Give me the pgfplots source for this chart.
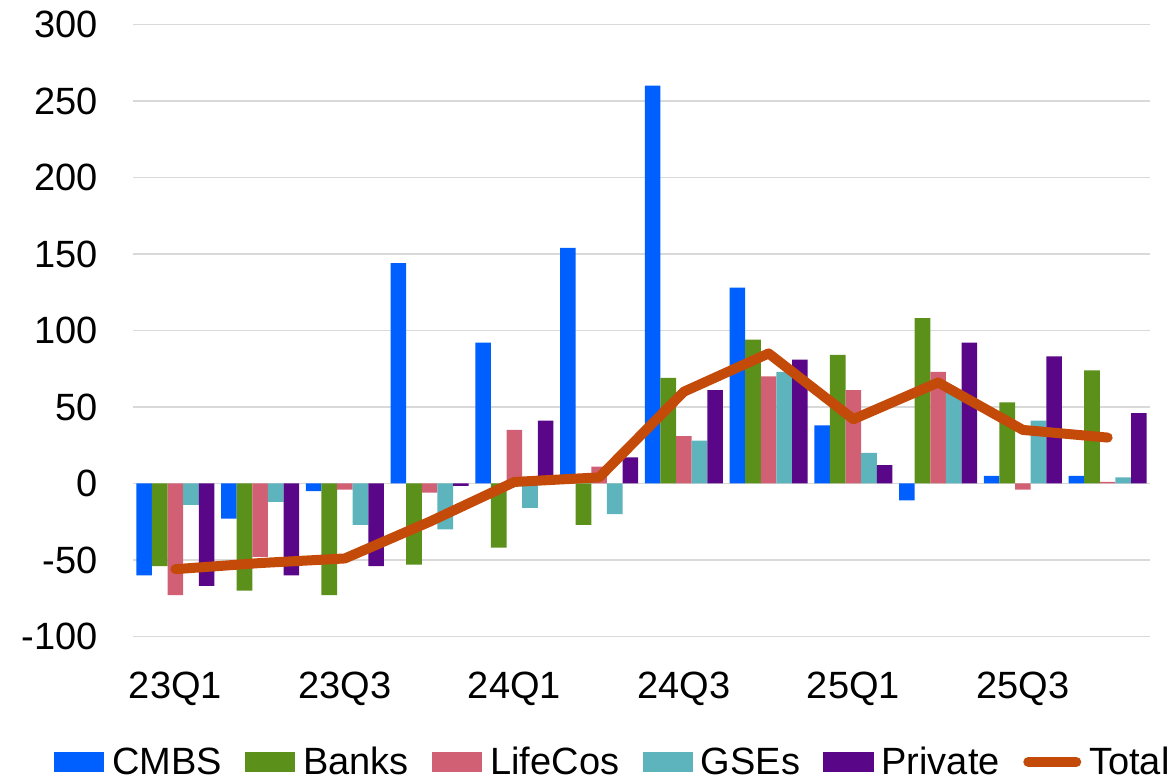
\documentclass[border=0pt]{standalone}
\usepackage{fontspec}
\setmainfont{Liberation Sans}
\usepackage{pgfplots}
\usepackage{pgfplotstable}
\pgfplotsset{compat=1.18}

\definecolor{cmbs}{RGB}{0,96,255}
\definecolor{banks}{RGB}{91,144,26}
\definecolor{lifecos}{RGB}{210,96,116}
\definecolor{gses}{RGB}{94,180,188}
\definecolor{private}{RGB}{90,6,136}
\definecolor{total}{RGB}{196,74,10}
\definecolor{gridgray}{RGB}{217,217,217}

% Quarterly net lending by lender type
\pgfplotstableread{
q  CMBS  Banks  LifeCos  GSEs  Private  Total
0  -60   -54    -73      -14   -67      -56
1  -23   -70    -48      -12   -60      -52
2  -5    -73    -4       -27   -54      -49
3  144   -53    -6       -30   -1.5     -25
4  92    -42    35       -16   41       1
5  154   -27    11       -20   17       4
6  260   69     31       28    61       60
7  128   94     70       73    81       85
8  38    84     61       20    12       42
9  -11   108    73       59    92       66
10 5     53     -4       41    83       35
11 5     74     1        4     46       30
}\lending

\newcommand{\bigfont}{\fontsize{38}{42}\selectfont}

\begin{document}
\begin{tikzpicture}
\begin{axis}[
  scale only axis,
  width=1017pt, height=612pt,
  xmin=-0.5, xmax=11.5,
  ymin=-100, ymax=300,
  ybar=0pt, bar width=15.6pt,
  axis line style={draw=none},
  major tick length=0pt,
  ymajorgrids,
  grid style={gridgray, line width=1.8pt},
  ytick={-100,-50,0,50,100,150,200,250,300},
  yticklabels={-100,-50,0,50,100,150,200,250,300},
  xtick={0,2,4,6,8,10},
  xticklabels={23Q1,23Q3,24Q1,24Q3,25Q1,25Q3},
  tick label style={font=\bigfont},
  yticklabel style={anchor=east, inner sep=0pt, xshift=-35pt},
  xticklabel style={anchor=base, inner sep=0pt, yshift=-62.5pt},
  clip=false,
  legend columns=6,
  legend style={draw=none, fill=none, font=\bigfont,
    inner sep=0pt, outer sep=0pt,
    at={(rel axis cs:-0.0777,-0.2050)}, anchor=west,
    nodes={inner sep=0pt},
    /tikz/every odd column/.append style={column sep=8pt},
    /tikz/every even column/.append style={column sep=23.5pt}},
]
\addplot[fill=cmbs, draw=none,
  legend image code/.code={\fill[cmbs] (0pt,-10pt) rectangle (50pt,10pt);}]
  table[x=q, y=CMBS] {\lending};
\addlegendentry{CMBS}
\addplot[fill=banks, draw=none,
  legend image code/.code={\fill[banks] (0pt,-10pt) rectangle (50pt,10pt);}]
  table[x=q, y=Banks] {\lending};
\addlegendentry{Banks}
\addplot[fill=lifecos, draw=none,
  legend image code/.code={\fill[lifecos] (0pt,-10pt) rectangle (50pt,10pt);}]
  table[x=q, y=LifeCos] {\lending};
\addlegendentry{LifeCos}
\addplot[fill=gses, draw=none,
  legend image code/.code={\fill[gses] (0pt,-10pt) rectangle (50pt,10pt);}]
  table[x=q, y=GSEs] {\lending};
\addlegendentry{GSEs}
\addplot[fill=private, draw=none,
  legend image code/.code={\fill[private] (0pt,-10pt) rectangle (50pt,10pt);}]
  table[x=q, y=Private] {\lending};
\addlegendentry{Private}
\addplot[sharp plot, draw=total, line width=10pt, line cap=round, line join=round, mark=none,
  legend image code/.code={\draw[total, line width=10pt, line cap=round] (5pt,0pt) -- (53pt,0pt);}]
  table[x=q, y=Total] {\lending};
\addlegendentry{Total}
% fix the overall canvas
\path (rel axis cs:-0.1308,-0.2394) rectangle (rel axis cs:1.0226,1.0400);
\end{axis}
\end{tikzpicture}
\end{document}
